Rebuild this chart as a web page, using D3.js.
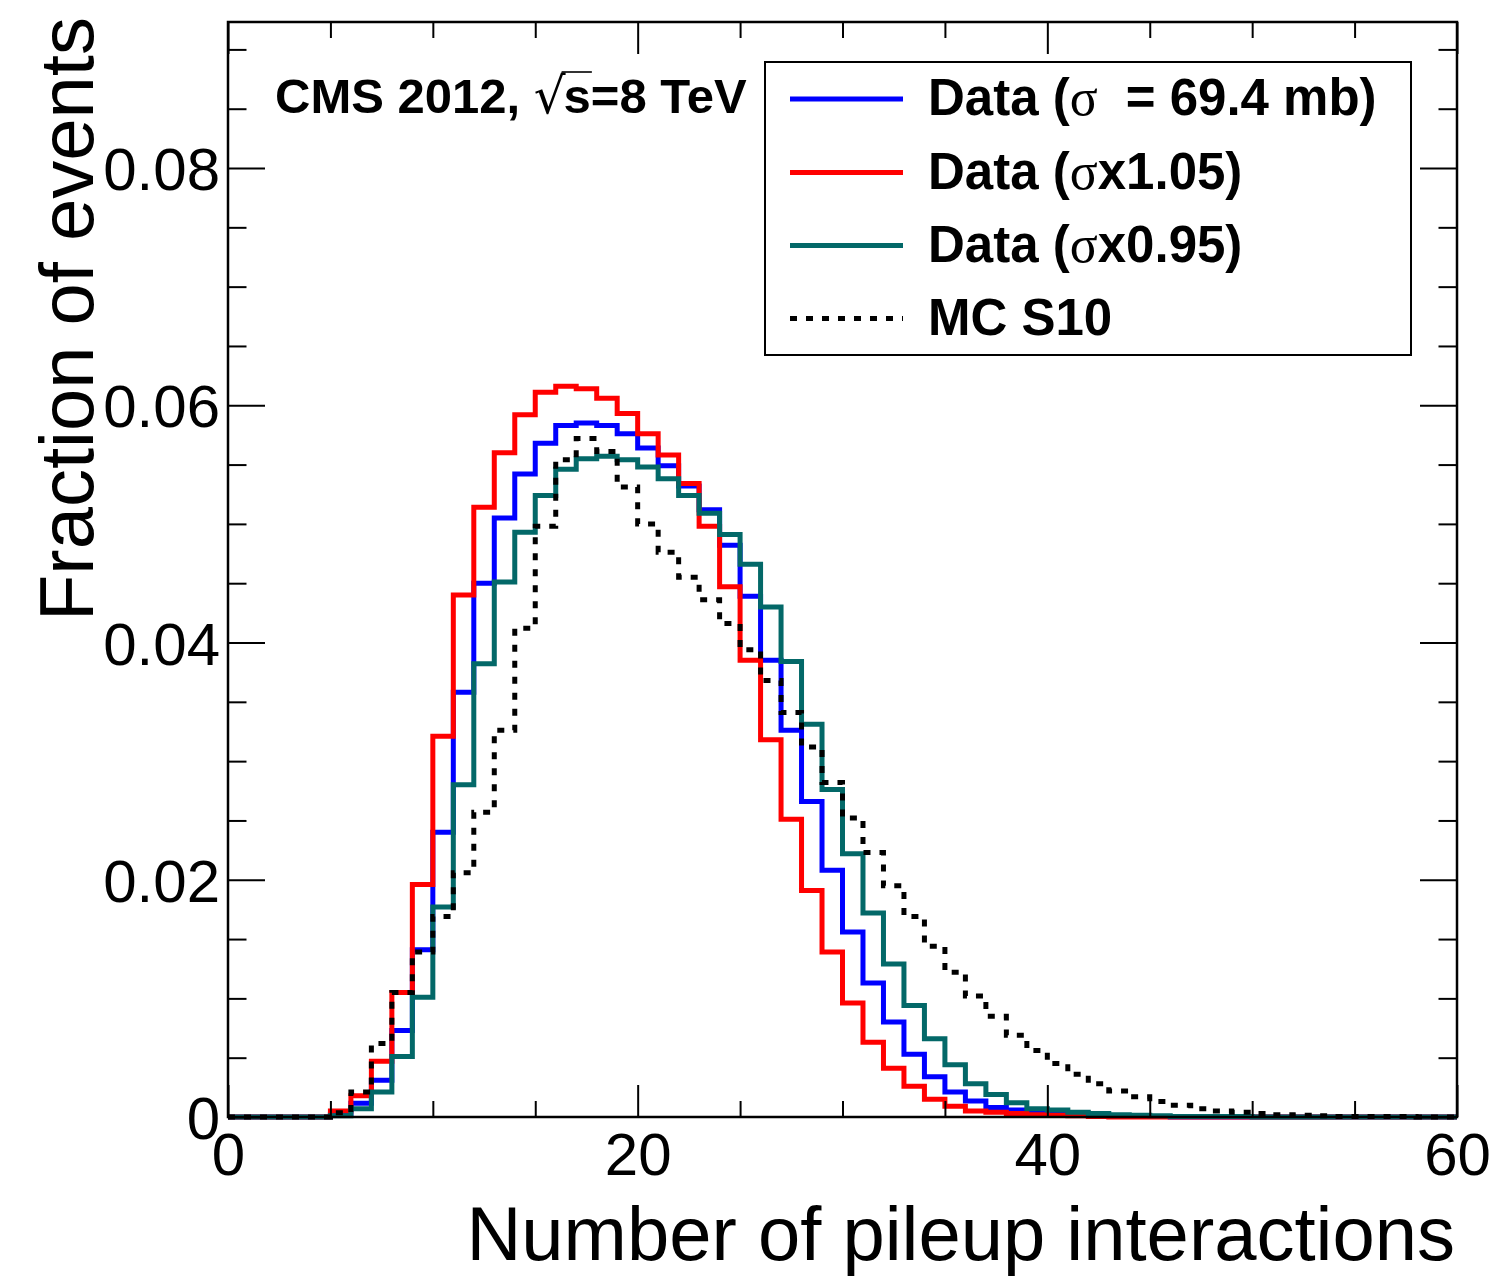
<!DOCTYPE html>
<html><head><meta charset="utf-8">
<script src="https://cdn.jsdelivr.net/npm/d3@7"></script>
<style>
body{margin:0;background:#fff}
svg{display:block;font-family:"Liberation Sans",Arial,Helvetica,sans-serif}
</style>
</head><body>
<svg id="c" width="1496" height="1277"></svg>
<script>
// ---------- data (bin contents, bins of width 1 from 0 to 60) ----------
const binLow = d3.range(0, 60);
const dataNominal = [0,0,0,0,0,0.0002,0.00115,0.0031,0.0073,0.0141,
  0.0240,0.0358,0.0450,0.0505,0.0542,0.0568,0.0583,0.0585,0.0583,0.0576,
  0.0564,0.0549,0.0532,0.0512,0.0482,0.0439,0.0385,0.0326,0.0266,0.0208,
  0.0156,0.0113,0.0080,0.0053,0.0034,0.0021,0.00135,0.0008,0.0006,0.0004,
  0.0003,0.0002,0.00015,0.0001,0.00005,0.00005,0,0,0,0,
  0,0,0,0,0,0,0,0,0,0];
const dataUp = [0,0,0,0,0,0.0005,0.0018,0.0047,0.0105,0.0196,
  0.0321,0.0440,0.0514,0.0560,0.0592,0.0611,0.0616,0.0614,0.0606,0.0593,
  0.0576,0.0558,0.0534,0.0498,0.0447,0.0385,0.0318,0.0251,0.0191,0.0139,
  0.0096,0.0063,0.0041,0.0026,0.0015,0.0009,0.0005,0.0004,0.0003,0.0002,
  0.00015,0.0001,0.00005,0,0,0,0,0,0,0,
  0,0,0,0,0,0,0,0,0,0];
const dataDown = [0,0,0,0,0,0.0001,0.0007,0.0021,0.0051,0.0101,
  0.0177,0.0280,0.0382,0.0451,0.0493,0.0524,0.0546,0.0555,0.0557,0.0554,
  0.0548,0.0538,0.0524,0.0509,0.0491,0.0466,0.0430,0.0384,0.0331,0.0276,
  0.0222,0.0172,0.0129,0.0094,0.0066,0.0044,0.0028,0.0019,0.0012,0.0007,
  0.0006,0.0004,0.0003,0.0002,0.00015,0.0001,0.00005,0.00005,0.00005,0.00005,
  0,0,0,0,0,0,0,0,0,0];
const mcS10 = [0,0,0,0,0,0.00035,0.0021,0.0062,0.0105,0.0139,
  0.0169,0.0206,0.0257,0.0326,0.0412,0.0498,0.0554,0.0572,0.0561,0.0531,
  0.0500,0.0476,0.0455,0.0436,0.0416,0.0394,0.0368,0.0341,0.0312,0.0282,
  0.0252,0.0223,0.0195,0.0169,0.0144,0.0122,0.0102,0.0085,0.0069,0.0056,
  0.0045,0.0036,0.0028,0.0022,0.0017,0.0013,0.0010,0.0007,0.0005,0.0004,
  0.0003,0.0002,0.00015,0.0001,0.00005,0.00005,0.00005,0.00005,0,0];

const xMajorTicks = [0, 20, 40, 60];
const xMinorTicks = [5,10,15,25,30,35,45,50,55];
const xTickLabels = ["0","20","40","60"];
const yMajorTicks = [0, 0.02, 0.04, 0.06, 0.08];
const yMinorTicks = [0.005,0.01,0.015,0.025,0.03,0.035,0.045,0.05,0.055,0.065,0.07,0.075,0.085,0.09];
const yTickLabels = ["0","0.02","0.04","0.06","0.08"];
const seriesNames = ["Data (σ  = 69.4 mb)", "Data (σx1.05)", "Data (σx0.95)", "MC S10"];

// ---------- layout ----------
const L = 228, R = 1457, T = 22, B = 1117;
const svg = d3.select("#c");
const x = d3.scaleLinear().domain([0, 60]).range([L, R]);
const y = d3.scaleLinear().domain([0, 0.09231]).range([B, T]);

const series = [
  {vals: dataNominal, color: "#0000ff", dash: null},
  {vals: dataUp, color: "#ff0000", dash: null},
  {vals: dataDown, color: "#036868", dash: null},
  {vals: mcS10, color: "#000000", dash: "7 9"}
];

// ---------- histograms ----------
const line = d3.line().x(d => x(d[0])).y(d => y(d[1]));
const steps = vals => binLow.flatMap((b, i) => [[b, vals[i]], [b + 1, vals[i]]]);
series.forEach(s => {
  svg.append("path")
    .attr("d", line(steps(s.vals)))
    .attr("fill", "none")
    .attr("stroke", s.color)
    .attr("stroke-width", 5)
    .attr("stroke-linejoin", "miter")
    .attr("stroke-dasharray", s.dash);
});

// ---------- axes ----------
const tickW = 2;
function styleAxis(g) {
  g.select(".domain").remove();
  g.selectAll(".tick line").attr("stroke", "#000").attr("stroke-width", tickW);
}
// bottom
svg.append("g").attr("transform", `translate(0,${B})`)
  .call(d3.axisBottom(x).tickValues(xMajorTicks).tickSize(-32).tickPadding(15)
    .tickFormat((d, i) => xTickLabels[i]))
  .call(styleAxis)
  .call(g => g.selectAll("text").attr("font-size", 60).attr("fill", "#000")
    .attr("font-family", "Liberation Sans, Arial, sans-serif"));
svg.append("g").attr("transform", `translate(0,${B})`)
  .call(d3.axisBottom(x).tickValues(xMinorTicks).tickSize(-16).tickFormat(""))
  .call(styleAxis);
// top
svg.append("g").attr("transform", `translate(0,${T})`)
  .call(d3.axisTop(x).tickValues(xMajorTicks).tickSize(-32).tickFormat(""))
  .call(styleAxis);
svg.append("g").attr("transform", `translate(0,${T})`)
  .call(d3.axisTop(x).tickValues(xMinorTicks).tickSize(-16).tickFormat(""))
  .call(styleAxis);
// left
svg.append("g").attr("transform", `translate(${L},0)`)
  .call(d3.axisLeft(y).tickValues(yMajorTicks).tickSize(-37).tickPadding(8)
    .tickFormat((d, i) => yTickLabels[i]))
  .call(styleAxis)
  .call(g => g.selectAll("text").attr("font-size", 60).attr("fill", "#000")
    .attr("dy", "0.36em").attr("font-family", "Liberation Sans, Arial, sans-serif"));
svg.append("g").attr("transform", `translate(${L},0)`)
  .call(d3.axisLeft(y).tickValues(yMinorTicks).tickSize(-18.5).tickFormat(""))
  .call(styleAxis);
// right
svg.append("g").attr("transform", `translate(${R},0)`)
  .call(d3.axisRight(y).tickValues(yMajorTicks).tickSize(-37).tickFormat(""))
  .call(styleAxis);
svg.append("g").attr("transform", `translate(${R},0)`)
  .call(d3.axisRight(y).tickValues(yMinorTicks).tickSize(-18.5).tickFormat(""))
  .call(styleAxis);

// frame
svg.append("rect").attr("x", L).attr("y", T).attr("width", R - L).attr("height", B - T)
  .attr("fill", "none").attr("stroke", "#000").attr("stroke-width", 2.5);

// axis titles
svg.append("text").attr("x", R - 2).attr("y", 1260).attr("text-anchor", "end")
  .attr("font-size", 76).text("Number of pileup interactions");
svg.append("text").attr("transform", "translate(93,17) rotate(-90)")
  .attr("text-anchor", "end").attr("font-size", 76).text("Fraction of events");

// CMS label
const cms = svg.append("text").attr("x", 275).attr("y", 113)
  .attr("font-size", 49).attr("font-weight", "bold");
cms.append("tspan").text("CMS 2012, ");
cms.append("tspan").attr("font-weight", "normal").attr("font-size", 50)
  .attr("font-family", "DejaVu Sans, sans-serif").text("√");
cms.append("tspan").attr("dx", -2).text("s=8 TeV");
{
  const node = cms.node();
  const n1 = "CMS 2012, ".length;
  const eRoot = node.getExtentOfChar(n1);
  const eS = node.getExtentOfChar(n1 + 1);
  svg.append("line")
    .attr("x1", eRoot.x + eRoot.width - 4).attr("x2", eS.x + eS.width + 1)
    .attr("y1", 72).attr("y2", 72).attr("stroke", "#000").attr("stroke-width", 1.6);
}

// legend
const lg = svg.append("g");
lg.append("rect").attr("x", 765).attr("y", 62).attr("width", 646).attr("height", 293)
  .attr("fill", "#fff").attr("stroke", "#000").attr("stroke-width", 2);
const rowY = [99, 172.5, 245.5, 318.5];
series.forEach((s, i) => {
  lg.append("line").attr("x1", 790).attr("x2", 903).attr("y1", rowY[i]).attr("y2", rowY[i])
    .attr("stroke", s.color).attr("stroke-width", 5).attr("stroke-dasharray", s.dash);
  const t = lg.append("text").attr("x", 928).attr("y", rowY[i] + 16)
    .attr("font-size", 51).attr("font-weight", "bold");
  const name = seriesNames[i];
  const k = name.indexOf("σ");
  if (k < 0) { t.text(name); return; }
  t.append("tspan").text(name.slice(0, k));
  t.append("tspan").attr("font-weight", "normal")
    .attr("font-family", "Liberation Serif, DejaVu Serif, serif").attr("font-size", 52)
    .text("σ");
  const rest = name.slice(k + 1);
  const lead = rest.match(/^ */)[0].length;
  t.append("tspan").attr("dx", lead * 14).text(rest.trimStart());
});
</script>
</body></html>
